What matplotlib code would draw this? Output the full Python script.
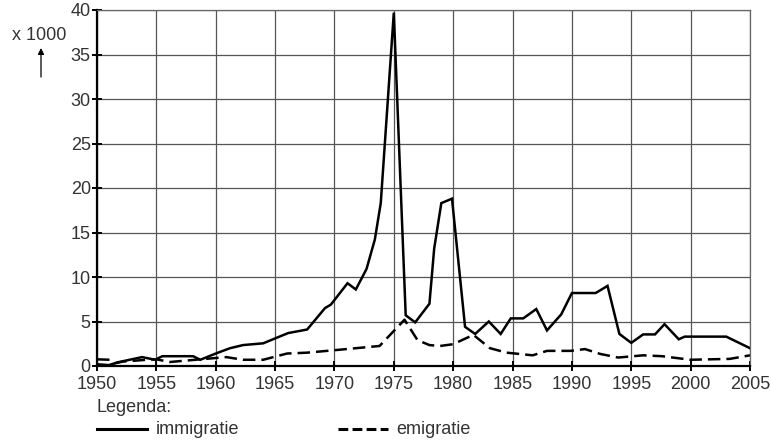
import matplotlib
matplotlib.use("Agg")
import matplotlib.pyplot as plt
import numpy as np

plt.rcParams['font.family'] = ['Liberation Sans', 'DejaVu Sans']

# immigratie (x 1000)
imm_years = [1950, 1951, 1951.7, 1953.8, 1954.9, 1955.5, 1958.1, 1958.7, 1960, 1961.2,
             1962.3, 1964, 1965, 1966.1, 1967.7, 1969.2, 1969.7, 1971.1, 1971.8, 1972.7,
             1973.4, 1973.9, 1975, 1976, 1976.8, 1978, 1978.4, 1979, 1979.9, 1981,
             1981.85, 1983, 1984, 1984.85, 1985.9, 1987, 1987.9, 1989.1, 1990, 1992,
             1993, 1994, 1995, 1996, 1997, 1997.8, 1999, 1999.5, 2003, 2005]
imm_values = [0.2, 0.1, 0.4, 1.0, 0.7, 1.1, 1.1, 0.7, 1.4, 2.0,
              2.35, 2.55, 3.1, 3.7, 4.1, 6.5, 6.9, 9.3, 8.6, 10.9,
              14.2, 18.3, 39.7, 5.7, 4.9, 7.0, 13.2, 18.3, 18.8, 4.4,
              3.6, 5.0, 3.6, 5.35, 5.35, 6.4, 4.0, 5.8, 8.2, 8.2,
              9.0, 3.6, 2.6, 3.55, 3.55, 4.7, 3.0, 3.3, 3.3, 2.0]

# emigratie (x 1000)
emi_years = [1950, 1951.1, 1951.5, 1952.2, 1954.2, 1955, 1956.15, 1958.7, 1960.9, 1962.3,
             1964, 1966, 1967.7, 1970.2, 1973.8, 1975.9, 1977, 1978, 1978.9, 1980,
             1981.7, 1983.1, 1984.5, 1986.7, 1987.9, 1989.9, 1991.1, 1992.4, 1993.9, 1996,
             1997.6, 2000, 2003.3, 2005]
emi_values = [0.75, 0.7, 0.3, 0.5, 0.7, 0.75, 0.45, 0.75, 1.0, 0.7,
              0.7, 1.4, 1.5, 1.8, 2.25, 5.2, 2.9, 2.35, 2.25, 2.45,
              3.5, 2.0, 1.5, 1.2, 1.7, 1.7, 1.9, 1.35, 0.95, 1.2,
              1.1, 0.7, 0.8, 1.2]

x_ticks = list(range(1950, 2006, 5))
y_ticks = list(range(0, 41, 5))

txt_color = '#333333'
fs = 13

fig = plt.figure(figsize=(7.71, 4.41), dpi=100)
ax = fig.add_axes([97/771, 75/441, 653/771, 356/441])

ax.plot(imm_years, imm_values, color='black', linewidth=1.8, solid_joinstyle='miter')
ax.plot(emi_years, emi_values, color='black', linewidth=1.8, linestyle=(0, (5, 2.4)))

ax.set_xlim(1950, 2005)
ax.set_ylim(0, 40)
ax.set_xticks(x_ticks)
ax.set_yticks(y_ticks)
ax.grid(True, color='#555555', linewidth=0.9)
ax.set_axisbelow(True)

for s in ['top', 'right']:
    ax.spines[s].set_color('#666666')
    ax.spines[s].set_linewidth(0.9)
for s in ['left', 'bottom']:
    ax.spines[s].set_linewidth(1.6)

ax.tick_params(direction='inout', length=7, width=1.4, labelsize=fs,
               labelcolor=txt_color)
ax.tick_params(axis='x', pad=4)
ax.tick_params(axis='y', pad=1)

fig.text(12/771, 1 - 36/441, 'x 1000', fontsize=fs, color=txt_color, va='center', ha='left')
ax.annotate('', xy=(41/771, 1 - 48/441), xytext=(41/771, 1 - 77/441),
            xycoords='figure fraction', textcoords='figure fraction',
            arrowprops=dict(arrowstyle='-|>', color='black', lw=0.9, mutation_scale=9,
                            shrinkA=0, shrinkB=0))

# legend
fig.text(97/771, 1 - 407/441, 'Legenda:', fontsize=fs, color=txt_color, va='center')
ly = 1 - 429/441
fig.add_artist(plt.Line2D([97/771, 147/771], [ly, ly], color='black', linewidth=2.2))
fig.text(156/771, ly, 'immigratie', fontsize=fs, color=txt_color, va='center')
fig.add_artist(plt.Line2D([338/771, 388/771], [ly, ly], color='black', linewidth=2.2,
                          linestyle=(0, (3.2, 1.4))))
fig.text(396/771, ly, 'emigratie', fontsize=fs, color=txt_color, va='center')

fig.savefig('out.png', dpi=100)
